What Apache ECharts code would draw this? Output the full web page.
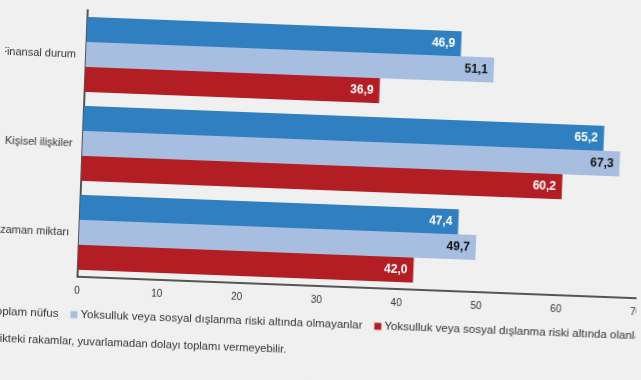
<!DOCTYPE html>
<html>
<head>
<meta charset="utf-8">
<script src="https://cdn.jsdelivr.net/npm/echarts@6/dist/echarts.min.js"></script>
<style>
html,body{margin:0;padding:0;background:#f0f0f0;overflow:hidden;}
#chart{width:641px;height:380px;transform:rotate(2.2deg);transform-origin:320px 190px;}
</style>
</head>
<body>
<div id="chart"></div>
<script>
const categories = ['Finansal durum', 'Kişisel ilişkiler', 'Boş zaman miktarı'];
const seriesNames = [
  'Toplam nüfus',
  'Yoksulluk veya sosyal dışlanma riski altında olmayanlar',
  'Yoksulluk veya sosyal dışlanma riski altında olanlar'
];
const toplam = [46.9, 65.2, 47.4];
const olmayanlar = [51.1, 67.3, 49.7];
const olanlar = [36.9, 60.2, 42.0];
const xTicks = [0, 10, 20, 30, 40, 50, 60, 70];
const footnote = 'Grafikteki rakamlar, yuvarlamadan dolayı toplamı vermeyebilir.';

const colors = ['#2f7fc1', '#a7bee0', '#b21e24'];
const labelColors = ['#ffffff', '#111111', '#ffffff'];
const fmt = v => v.toFixed(1).replace('.', ',');

const chart = echarts.init(document.getElementById('chart'));
const dataSets = [toplam, olmayanlar, olanlar];
chart.setOption({
  backgroundColor: '#f0f0f0',
  animation: false,
  grid: {left: 81, right: 1, top: 19, bottom: 94, containLabel: false, outerBoundsMode: 'none'},
  legend: {
    left: -20, top: 313, width: 1200,
    itemWidth: 7, itemHeight: 7, itemGap: 12,
    icon: 'rect',
    textStyle: {fontSize: 11.5, color: '#333', fontFamily: 'Liberation Sans, Arial', padding: [0,0,0,-2]},
    data: seriesNames
  },
  graphic: [{
    type: 'text', left: -16, top: 345,
    style: {text: footnote, fontSize: 11.2, fill: '#333', fontFamily: 'Liberation Sans, Arial'}
  }],
  xAxis: {
    type: 'value', min: xTicks[0], max: xTicks[xTicks.length-1], interval: 10,
    splitLine: {show: false},
    axisLine: {show: true, lineStyle: {color: '#222', width: 1.5}},
    axisTick: {show: false},
    axisLabel: {fontSize: 10, color: '#333', margin: 9, fontFamily: 'Liberation Sans, Arial'}
  },
  yAxis: {
    type: 'category', inverse: true, data: categories,
    axisLine: {show: true, lineStyle: {color: '#222', width: 1.5}},
    axisTick: {show: false},
    axisLabel: {fontSize: 11, color: '#333', margin: 10, fontFamily: 'Liberation Sans, Arial'}
  },
  series: dataSets.map((d, i) => ({
    name: seriesNames[i],
    type: 'bar',
    data: d,
    barGap: '0%',
    barCategoryGap: '16%',
    itemStyle: {color: colors[i]},
    label: {
      show: true, position: 'insideRight', distance: 6,
      formatter: p => fmt(p.value),
      color: labelColors[i], fontSize: 12, fontWeight: 'bold',
      fontFamily: 'Liberation Sans Narrow, Liberation Sans, Arial'
    }
  }))
});
</script>
</body>
</html>
